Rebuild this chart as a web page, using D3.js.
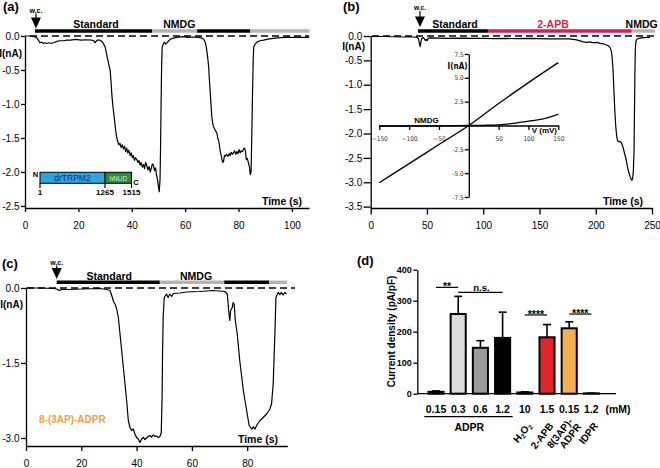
<!DOCTYPE html>
<html><head><meta charset="utf-8">
<script src="https://cdn.jsdelivr.net/npm/d3@7"></script>
<style>body{margin:0;background:#fff}svg{display:block}</style>
</head><body><svg width="660" height="468"></svg>
<script>
// ---------------- DATA ----------------
// Panel (a): time (s), current (nA)
const traceA = [[0,0],[2,0],[3.5,-0.01],[4.3,-0.02],[5,-0.06],[5.6,-0.1],[6.2,-0.09],[6.9,-0.11],[7.5,-0.1],[8.2,-0.11],[9,-0.1],[9.8,-0.11],[10.6,-0.1],[11.3,-0.09],[11.9,-0.08],[13,-0.07],[14.5,-0.07],[15.6,-0.06],[17,-0.06],[19,-0.05],[21,-0.06],[23,-0.055],[25,-0.06],[25.8,-0.07],[26.2,-0.1],[26.6,-0.08],[27.2,-0.06],[28,-0.06],[28.8,-0.08],[29.5,-0.12],[30,-0.16],[30.5,-0.25],[30.9,-0.33],[31.4,-0.42],[31.9,-0.5],[32.2,-0.65],[32.5,-0.84],[32.8,-0.98],[33.1,-1.09],[33.5,-1.22],[33.8,-1.33],[34.1,-1.43],[34.4,-1.5],[34.8,-1.56],[35.2,-1.6],[35.6,-1.58],[36,-1.64],[36.4,-1.6],[36.9,-1.66],[37.3,-1.62],[37.7,-1.7],[38.1,-1.65],[38.5,-1.72],[38.9,-1.68],[39.4,-1.76],[39.8,-1.72],[40.2,-1.79],[40.6,-1.76],[41,-1.83],[41.4,-1.79],[41.9,-1.82],[42.3,-1.86],[42.7,-1.83],[43.1,-1.9],[43.5,-1.86],[44,-1.93],[44.4,-1.89],[44.8,-1.95],[45.2,-1.86],[45.6,-1.9],[46,-1.97],[46.5,-1.92],[46.9,-2.0],[47.3,-1.95],[47.7,-1.88],[48.1,-1.9],[48.5,-1.98],[48.9,-1.94],[49.3,-2.05],[49.7,-2.12],[50,-2.22],[50.3,-2.29],[50.6,-2.1],[50.8,-1.6],[51,-0.94],[51.2,-0.4],[51.4,-0.16],[51.9,-0.11],[52.3,-0.09],[52.7,-0.12],[53.2,-0.1],[53.8,-0.07],[54.4,-0.05],[55.5,-0.03],[57,-0.02],[59,-0.01],[61,-0.02],[63,-0.015],[65,-0.02],[66.3,-0.03],[67,-0.05],[67.5,-0.09],[67.9,-0.16],[68.4,-0.3],[68.8,-0.45],[69.1,-0.65],[69.4,-0.84],[69.7,-1.02],[70,-1.19],[70.3,-1.28],[70.6,-1.33],[71.2,-1.38],[71.9,-1.43],[72.2,-1.5],[72.5,-1.53],[72.8,-1.6],[73.1,-1.68],[73.5,-1.76],[73.8,-1.82],[74.1,-1.86],[74.4,-1.84],[74.7,-1.76],[75,-1.77],[75.5,-1.74],[76,-1.77],[76.5,-1.73],[76.9,-1.76],[77.3,-1.71],[77.7,-1.74],[78.1,-1.72],[78.5,-1.69],[79,-1.74],[79.4,-1.7],[79.8,-1.73],[80.2,-1.67],[80.6,-1.72],[81,-1.69],[81.5,-1.7],[81.9,-1.66],[82.3,-1.65],[82.6,-1.7],[82.9,-1.82],[83.3,-1.8],[83.8,-1.88],[84.1,-1.93],[84.4,-2.04],[84.7,-2.0],[84.9,-1.6],[85.2,-0.94],[85.5,-0.35],[85.7,-0.16],[86.2,-0.12],[86.9,-0.09],[88,-0.07],[89.4,-0.06],[91,-0.045],[93.1,-0.035],[95.5,-0.025],[98,-0.02],[102,-0.02],[106.5,-0.02]];
const solA = [["Standard",3.75,47.7],["NMDG",47.7,64.5],["Standard",64.5,84.4],["NMDG",84.4,106.6]];
const solLabelA = [["Standard",26.6],["NMDG",57.8]];
const wcA = 4.1;
const domainNames = ["drTRPM2","hNUD"];
const domainStart = [1,1265];
const domainEnd = [1265,1515];
const residueTicks = [1,1265,1515];

// Panel (b)
const traceB = [[0,-0.01],[10,-0.01],[20,-0.015],[30,-0.02],[38,-0.02],[41.5,-0.03],[42.5,-0.06],[43.2,-0.14],[44,-0.22],[44.6,-0.12],[45.3,-0.05],[46.5,-0.03],[47.5,-0.05],[48.5,-0.09],[49.3,-0.07],[50.2,-0.1],[51,-0.05],[52.7,-0.04],[60,-0.045],[70,-0.05],[80,-0.045],[90,-0.05],[100,-0.05],[110,-0.055],[120,-0.05],[130,-0.055],[140,-0.05],[150,-0.055],[160,-0.06],[170,-0.06],[176,-0.06],[180,-0.07],[183,-0.08],[186,-0.1],[189,-0.12],[192,-0.13],[195,-0.12],[198,-0.14],[201,-0.13],[204,-0.15],[206.8,-0.16],[209,-0.18],[211.2,-0.2],[212.8,-0.24],[214,-0.32],[214.8,-0.5],[215.6,-0.8],[216.3,-1.2],[217,-1.55],[217.8,-1.85],[218.6,-2.05],[219.3,-2.14],[220,-2.17],[221.5,-2.16],[223,-2.2],[224.5,-2.3],[225.5,-2.4],[226.9,-2.52],[228,-2.66],[229,-2.77],[230.5,-2.88],[231.5,-2.94],[232.2,-2.96],[232.8,-2.92],[233.4,-2.78],[234,-2.4],[234.4,-1.6],[234.8,-0.8],[235.2,-0.25],[235.8,-0.1],[236.4,-0.07],[238,-0.05],[241,-0.04],[245,-0.03],[248.2,-0.03]];
const solB = [["Standard",42,104.2],["2-APB",104.2,232],["NMDG",232,252.6]];
const solLabelB = [["Standard",74.9],["2-APB",162],["NMDG",240.8]];
const wcB = 43.8;
// inset I-V (mV, nA)
const ivStandard = [[-150,-6.0],[-100,-4.0],[-50,-2.0],[0,0],[50,2.3],[100,4.5],[150,6.6]];
const ivNMDG = [[-150,-0.05],[-100,-0.05],[-50,-0.03],[0,0],[25,0.02],[50,0.07],[75,0.22],[100,0.45],[125,0.7],[150,1.2]];
const ivXTicks = [-150,-100,-50,50,100,150];
const ivYTicks = [7.5,5,2.5,-2.5,-5,-7.5];

// Panel (c)
const traceC = [[0,0],[5,0],[10,-0.01],[11.1,-0.02],[12,-0.05],[12.9,-0.03],[14.7,-0.03],[20.7,-0.02],[26.7,-0.01],[29.2,-0.03],[30.4,-0.05],[31,-0.15],[31.8,-0.29],[32.2,-0.32],[32.8,-0.42],[33.4,-0.59],[34,-0.92],[34.6,-1.25],[35.2,-1.59],[35.8,-1.92],[36.4,-2.25],[37,-2.65],[37.6,-2.79],[38.2,-2.85],[38.8,-2.82],[39.4,-2.92],[40,-2.99],[40.6,-3.02],[41.2,-3.09],[41.8,-3.02],[42.4,-2.99],[43,-3.03],[43.6,-3.0],[44.2,-2.97],[44.8,-2.95],[45.4,-2.98],[46,-2.94],[46.6,-2.97],[47.2,-2.96],[47.8,-2.99],[48.4,-2.97],[48.9,-2.9],[49.2,-2.25],[49.4,-1.25],[49.6,-0.59],[50,-0.19],[50.8,-0.12],[51.4,-0.19],[52,-0.12],[52.7,-0.17],[53.3,-0.11],[55.7,-0.1],[58.1,-0.08],[62.9,-0.07],[67.7,-0.05],[71.9,-0.07],[72.8,-0.12],[73.3,-0.45],[73.7,-0.65],[74,-0.45],[74.6,-0.39],[74.9,-0.29],[75.3,-0.33],[75.7,-0.65],[76.4,-0.92],[77.3,-1.45],[78.6,-2.05],[79.8,-2.45],[80.7,-2.75],[81.6,-2.82],[82.2,-2.78],[82.8,-2.82],[83.4,-2.75],[84.6,-2.65],[85.8,-2.59],[87,-2.52],[88.2,-2.42],[88.8,-2.32],[89.4,-1.92],[90,-0.92],[90.4,-0.19],[91.2,-0.09],[91.8,-0.13],[92.4,-0.09],[93,-0.14],[93.6,-0.09],[94.2,-0.12]];
const solC = [["Standard",11.1,48.4],["NMDG",48.4,71.7],["Standard",71.7,88],["NMDG",88,94.5]];
const solLabelC = [["Standard",30.1],["NMDG",61.5]];
const wcC = 11.1;

// Panel (d)
const barLabels = ["0.15","0.3","0.6","1.2","10","1.5","0.15","1.2"];
const barMeans = [6,257,148,180,4,182,211,1];
const barErrors = [3,57,23,83,2,41,21,1];
const agentLabels = [null,null,null,null,["H|2|O|2"],["2-APB"],["8(3AP)-","ADPR"],["IDPR"]];
const sigPairs = [[0,1,"**",343],[1,3,"n.s.",327],[4,5,"****",254],[6,7,"****",257]];

// ---------------- STYLE ----------------
const FONT = "'Liberation Sans', Arial, Helvetica, sans-serif";
const NARROW = "'Liberation Sans Narrow', 'DejaVu Sans Condensed', 'Liberation Sans', sans-serif";
const solColor = {"Standard":"#000000","NMDG":"#b4b4b4","2-APB":"#e5194d"};
const barColors = ["#000","#dcdcdc","#9b9b9b","#000","#000","#e3262b","#f6ad4e","#fff"];
const svg = d3.select("svg").style("font-family", FONT);

function styleAxis(g, fs, weight, family){
  g.attr("font-family", null).attr("font-size", null);
  g.select(".domain").attr("stroke","#000").attr("stroke-width",1.3);
  g.selectAll(".tick line").attr("stroke","#000").attr("stroke-width",1.3);
  g.selectAll(".tick text").attr("fill","#000").style("font-size",fs+"px")
    .style("font-weight",weight).style("font-family",family||FONT);
  return g;
}
function text(x,y,s,o){
  o=o||{};
  return svg.append("text").attr("x",x).attr("y",y).text(s)
    .style("font-size",(o.fs||10)+"px").style("font-weight",o.w||"bold")
    .attr("text-anchor",o.a||"start").attr("fill",o.fill||"#000")
    .style("font-family",o.family||FONT);
}
function wcArrow(x, yText, yTop, yTip, fs){
  text(x, yText, "w.c.", {fs:fs, a:"middle"});
  svg.append("line").attr("x1",x).attr("x2",x).attr("y1",yText+1).attr("y2",yTop+1).attr("stroke","#000").attr("stroke-width",1.2);
  svg.append("path").attr("d",`M${x-5},${yTop}L${x+5},${yTop}L${x},${yTip}Z`).attr("fill","#000");
}
function solutionBars(sol, labels, xs, y, ly){
  svg.append("g").selectAll("line").data(sol).join("line")
    .attr("x1",d=>xs(d[1])).attr("x2",d=>xs(d[2])).attr("y1",y).attr("y2",y)
    .attr("stroke",d=>solColor[d[0]]).attr("stroke-width",3.4);
  labels.forEach(l=>text(xs(l[1]), ly, l[0], {fs:10.5, a:"middle", fill: l[0]==="2-APB"?solColor["2-APB"]:"#000"}));
}
function zeroLine(x1,x2,y){
  svg.append("line").attr("x1",x1).attr("x2",x2).attr("y1",y).attr("y2",y)
    .attr("stroke","#000").attr("stroke-width",1.6).attr("stroke-dasharray","7,4");
}
function trace(data, xs, ys, w){
  svg.append("path").datum(data).attr("fill","none").attr("stroke","#000").attr("stroke-width",w||1.2)
    .attr("stroke-linejoin","round")
    .attr("d", d3.line().x(d=>xs(d[0])).y(d=>ys(d[1])));
}
const f1 = d=>d.toFixed(1);

// ---------------- PANEL (a) ----------------
{
  const xs = d3.scaleLinear([0,106.4],[25,309]);
  const ys = d3.scaleLinear([0,-2.53],[36,208]);
  styleAxis(svg.append("g").attr("transform","translate(0,208)")
    .call(d3.axisBottom(xs).tickValues([0,20,40,60,80,100]).tickSize(4).tickSizeOuter(0).tickPadding(10)),10,"normal");
  styleAxis(svg.append("g").attr("transform","translate(25,0)")
    .call(d3.axisLeft(ys).tickValues([0,-0.5,-1,-1.5,-2,-2.5]).tickFormat(f1).tickSize(4).tickSizeOuter(0).tickPadding(1.5)),10,"normal");
  zeroLine(30,309,ys(0));
  trace(traceA, xs, ys);
  solutionBars(solA, solLabelA, xs, 31, 27.5);
  wcArrow(xs(wcA), 12.5, 17.5, 28.5, 7);
  text(3,11,"(a)",{fs:13});
  text(22,57,"I(nA)",{fs:10,a:"end"});
  text(302,205,"Time (s)",{fs:10.5,a:"end"});
  // domain diagram inset
  const rs = d3.scaleLinear().domain([1,1265,1515]).range([40,105,131.5]);
  const dCol = ["#2aa7e0","#2b8c3c"];
  svg.append("g").selectAll("rect").data(domainNames).join("rect")
    .attr("x",(d,i)=>rs(domainStart[i])).attr("width",(d,i)=>rs(domainEnd[i])-rs(domainStart[i]))
    .attr("y",172.3).attr("height",11).attr("fill",(d,i)=>dCol[i]).attr("stroke","#000").attr("stroke-width",1);
  text((rs(1)+rs(1265))/2,181,"drTRPM2",{fs:8.5,w:"normal",a:"middle",fill:"#1b2b6e"});
  text((rs(1265)+rs(1515))/2,180.5,"hNUD",{fs:6.5,w:"normal",a:"middle",fill:"#dff2d8"});
  svg.append("g").selectAll("line").data(residueTicks).join("line")
    .attr("x1",d=>rs(d)).attr("x2",d=>rs(d)).attr("y1",183.3).attr("y2",188).attr("stroke","#000").attr("stroke-width",1.2);
  residueTicks.forEach(d=>text(rs(d),195,String(d),{fs:8,a:"middle"}));
  text(35.5,177,"N",{fs:7.5,a:"middle"});
  text(136,184.5,"C",{fs:7.5,a:"middle"});
}

// ---------------- PANEL (b) ----------------
{
  const xs = d3.scaleLinear([0,250],[370.7,652]);
  const ys = d3.scaleLinear([0,-3.528],[36,208]);
  styleAxis(svg.append("g").attr("transform","translate(0,208)")
    .call(d3.axisBottom(xs).tickValues([0,50,100,150,200,250]).tickSize(6.5).tickSizeOuter(0).tickPadding(7.5)),10,"normal");
  styleAxis(svg.append("g").attr("transform","translate(370.7,0)")
    .call(d3.axisLeft(ys).tickValues([0,-0.5,-1,-1.5,-2,-2.5,-3,-3.5]).tickFormat(f1).tickSize(7).tickSizeOuter(0).tickPadding(1.5)),10,"normal");
  zeroLine(372,655,ys(0));
  trace(traceB, xs, ys);
  solutionBars(solB, solLabelB, xs, 31, 27.5);
  wcArrow(xs(wcB), 10, 16.5, 27, 6.5);
  text(343,11,"(b)",{fs:13});
  text(365,50,"I(nA)",{fs:10,a:"end"});
  text(643,205,"Time (s)",{fs:10.5,a:"end"});
  // inset
  const xi = d3.scaleLinear([-150,150],[379.3,558.3]);
  const yi = d3.scaleLinear([7.5,-7.5],[54,197]);
  styleAxis(svg.append("g").attr("transform",`translate(0,${yi(0)})`)
    .call(d3.axisBottom(xi).tickValues(ivXTicks).tickSize(4.5).tickSizeOuter(0).tickPadding(6.5)),6.5,"normal",NARROW)
    .selectAll(".tick text").attr("fill","#333");
  styleAxis(svg.append("g").attr("transform",`translate(${xi(0)},0)`)
    .call(d3.axisLeft(yi).tickValues(ivYTicks).tickFormat(f1).tickSize(4).tickSizeOuter(0).tickPadding(1)),6.5,"normal",NARROW)
    .selectAll(".tick text").attr("fill","#333");
  const lineI = d3.line().x(d=>xi(d[0])).y(d=>yi(d[1])).curve(d3.curveMonotoneX);
  svg.append("path").datum(ivStandard).attr("d",lineI).attr("fill","none").attr("stroke","#000").attr("stroke-width",1.3);
  svg.append("path").datum(ivNMDG).attr("d",lineI).attr("fill","none").attr("stroke","#000").attr("stroke-width",1.3);
  text(467.5,69,"I(nA)",{fs:8,a:"end",family:NARROW});
  text(557,132.5,"V (mV)",{fs:8,a:"end"});
  text(426.5,123,"NMDG",{fs:8,a:"middle"});
}

// ---------------- PANEL (c) ----------------
{
  const xs = d3.scaleLinear([0,94.5],[26,287.3]);
  const ys = d3.scaleLinear([0,-3.16],[288,446]);
  styleAxis(svg.append("g").attr("transform","translate(0,446)")
    .call(d3.axisBottom(xs).tickValues([0,20,40,60,80]).tickSize(5).tickSizeOuter(0).tickPadding(9)),10,"normal");
  styleAxis(svg.append("g").attr("transform","translate(26,0)")
    .call(d3.axisLeft(ys).tickValues([0,-1.5,-3]).tickFormat(f1).tickSize(5).tickSizeOuter(0).tickPadding(1.5)),10,"normal");
  zeroLine(27,295,ys(0));
  trace(traceC, xs, ys);
  solutionBars(solC, solLabelC, xs, 282.3, 279.5);
  wcArrow(xs(wcC), 264.5, 268, 279, 7);
  text(2,268,"(c)",{fs:13});
  text(23,308,"I(nA)",{fs:10,a:"end"});
  text(278,443,"Time (s)",{fs:10.5,a:"end"});
  text(39,423,"8-(3AP)-ADPR",{fs:10,fill:"#f0a045"});
}

// ---------------- PANEL (d) ----------------
{
  const xs = d3.scaleBand().domain(d3.range(barLabels.length)).range([424.9,602.5]).paddingInner(0.32).paddingOuter(0.16);
  const ys = d3.scaleLinear([0,400],[393.7,269.7]);
  const cx = i=>xs(i)+xs.bandwidth()/2;
  styleAxis(svg.append("g").attr("transform","translate(417.3,0)")
    .call(d3.axisLeft(ys).tickValues([0,100,200,300,400]).tickSize(4).tickSizeOuter(0).tickPadding(1.5)),9,"bold");
  svg.append("line").attr("x1",417.3).attr("x2",616).attr("y1",ys(0)).attr("y2",ys(0)).attr("stroke","#000").attr("stroke-width",1.3);
  const g = svg.append("g");
  // error bars
  g.selectAll(".eb").data(barMeans).join("line").attr("class","eb")
    .attr("x1",(d,i)=>cx(i)).attr("x2",(d,i)=>cx(i)).attr("y1",d=>ys(d)).attr("y2",(d,i)=>ys(d+barErrors[i]))
    .attr("stroke","#000").attr("stroke-width",1.6);
  g.selectAll(".cap").data(barMeans).join("line").attr("class","cap")
    .attr("x1",(d,i)=>cx(i)-4).attr("x2",(d,i)=>cx(i)+4).attr("y1",(d,i)=>ys(d+barErrors[i])).attr("y2",(d,i)=>ys(d+barErrors[i]))
    .attr("stroke","#000").attr("stroke-width",1.6);
  g.selectAll("rect").data(barMeans).join("rect")
    .attr("x",(d,i)=>xs(i)).attr("width",xs.bandwidth()).attr("y",d=>ys(d)).attr("height",d=>ys(0)-ys(d))
    .attr("fill",(d,i)=>barColors[i]).attr("stroke","#000").attr("stroke-width",2);
  // x labels
  barLabels.forEach((l,i)=>text(cx(i),413,l,{fs:10.5,a:"middle"}));
  text(618,413,"(mM)",{fs:10.5,a:"middle"});
  svg.append("line").attr("x1",424.3).attr("x2",512.7).attr("y1",416.7).attr("y2",416.7).attr("stroke","#000").attr("stroke-width",1.2);
  text((cx(0)+cx(3))/2,430.5,"ADPR",{fs:10.5,a:"middle"});
  agentLabels.forEach((lab,i)=>{
    if(!lab) return;
    const two = lab.length>1;
    const t = svg.append("text").attr("transform",`translate(${cx(i)+(two?4:7)},${two?421.5:426}) rotate(-52)`)
      .attr("text-anchor","end").style("font-size","10px").style("font-weight","bold");
    lab.forEach((line,k)=>{
      if(line.includes("|")){
        line.split("|").forEach((p,j)=>{
          t.append("tspan").text(p).style("font-size",j%2? "6.5px":"10px").attr("dy", j===0?0:(j%2?2:-2));
        });
      } else {
        t.append("tspan").attr("x",0).attr("dx",k===0?0:1).attr("dy",k===0?0:"1.0em").text(line);
      }
    });
  });
  // significance
  sigPairs.forEach(s=>{
    const y = ys(s[3]);
    svg.append("line").attr("x1",cx(s[0])).attr("x2",cx(s[1])).attr("y1",y).attr("y2",y).attr("stroke","#000").attr("stroke-width",1.2);
    const isNs = s[2]==="n.s.";
    text((cx(s[0])+cx(s[1]))/2 + (isNs?1:0), isNs? y-1.8 : y+3, s[2], {fs:isNs?9.5:10.5, a:"middle"});
  });
  svg.append("text").attr("transform",`translate(395,331.5) rotate(-90)`).attr("text-anchor","middle")
    .style("font-size","10px").style("font-weight","bold").text("Current density (pA/pF)");
  text(357,265,"(d)",{fs:13});
}
</script></body></html>
